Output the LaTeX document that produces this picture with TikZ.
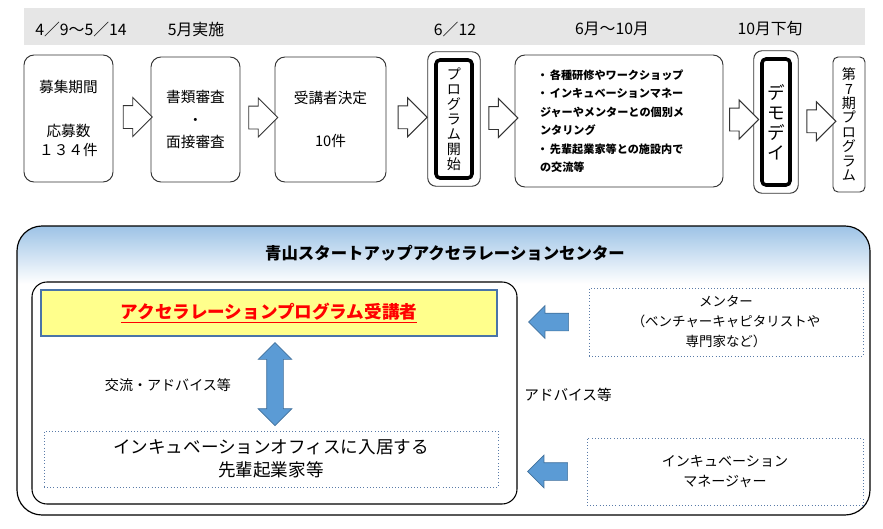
\documentclass[tikz,border=0pt]{standalone}
\usepackage{fontspec}
\setmainfont{Noto Sans CJK JP}
\usetikzlibrary{positioning, calc, fit, shapes.arrows, backgrounds}
\definecolor{bandgray}{HTML}{E6E6E6}
\definecolor{stageline}{HTML}{333333}
\definecolor{arrowblue}{HTML}{5B9BD5}
\definecolor{arrowedge}{HTML}{41719C}
\definecolor{skyblue}{HTML}{9DC3E6}
\definecolor{partyellow}{HTML}{FFFF8C}
\definecolor{partedge}{HTML}{4A74A8}
\definecolor{dotblue}{HTML}{5A7BA8}
\newlength\pxu
\setlength\pxu{0.03cm}
% header fade of the center box: white below, sky blue at the top edge
\pgfdeclareverticalshading{centerfade}{100bp}{%
    color(0bp)=(white); color(65bp)=(white);
    color(75bp)=(skyblue); color(100bp)=(skyblue)}

\begin{document}
\begin{tikzpicture}[
    x=0.03cm, y=-0.03cm,
    datelabel/.style={
        font=\fontsize{13.5}{15}\selectfont, inner sep=0pt,
    },
    stagebox/.style={
        draw=stageline, fill=white, rounded corners=0.3cm,
        line width=0.8pt, align=center, inner sep=0pt,
        font=\fontsize{12.5}{16}\selectfont,
    },
    keystage/.style={
        draw=black, fill=white, rounded corners=0.12cm,
        line width=3pt, align=center, inner sep=0pt,
    },
    keyframe/.style={
        draw=stageline, rounded corners=0.25cm, line width=0.8pt,
        inner sep=6.5\pxu,
    },
    flowarrow/.style={
        single arrow, draw=stageline, fill=white, line width=0.8pt,
        minimum height=29\pxu, inner xsep=0pt, inner ysep=11\pxu,
        single arrow head extend=8\pxu,
    },
    centerbox/.style={
        draw=black, shading=centerfade, rounded corners=0.75cm, line width=1pt,
    },
    memberbox/.style={
        draw=black, fill=white, rounded corners=0.45cm, line width=0.9pt,
    },
    partbox/.style={
        draw=partedge, fill=partyellow, line width=2.5pt,
        font=\fontsize{15}{18}\selectfont\bfseries, text=red,
    },
    supportbox/.style={
        draw=dotblue, dotted, line width=0.7pt, align=center, inner sep=0pt,
    },
    bothway/.style={
        double arrow, fill=arrowblue, draw=arrowedge, line width=0.6pt,
        shape border rotate=90, minimum height=83\pxu,
        inner sep=8\pxu, double arrow head extend=8.5\pxu,
    },
    advarrow/.style={
        single arrow, fill=arrowblue, draw=arrowedge, line width=0.6pt,
        shape border rotate=180, minimum height=40\pxu,
        inner xsep=0pt, inner ysep=8.5\pxu, single arrow head extend=7.5\pxu,
    },
    textlabel/.style={
        font=\fontsize{12}{14}\selectfont, inner sep=0pt,
    },
]
\useasboundingbox (0,0) rectangle (883,529);

% Schedule band
\fill[bandgray] (24,8) rectangle (865,45);
\node[datelabel] (d1) at (81,29) {4／9～5／14};
\node[datelabel] (d2) at (196,29) {5月実施};
\node[datelabel] (d3) at (455,29) {6／12};
\node[datelabel] (d4) at (612,29) {6月～10月};
\node[datelabel] (d5) at (770,29) {10月下旬};

% Stages
\node[stagebox, minimum width=89\pxu, minimum height=127\pxu] (recruit) at (68.5,118.5)
    {募集期間\\[22pt]応募数\\１３４件};
\node[stagebox, minimum width=89\pxu, minimum height=125\pxu,
      font=\fontsize{12.5}{19}\selectfont] (screen) at (195.5,119.5)
    {書類審査\\・\\面接審査};
\node[stagebox, minimum width=111\pxu, minimum height=125\pxu] (decide) at (330.5,119.5)
    {受講者決定\\[21pt]10件};
\node[keystage, minimum width=36\pxu, minimum height=118\pxu,
      font=\fontsize{12}{12.8}\selectfont] (start) at (454,119)
    {プ\\ロ\\グ\\ラ\\ム\\開\\始};
\node[keyframe, fit=(start)] (startframe) {};
\node[stagebox, minimum width=208\pxu, minimum height=132\pxu, align=left,
      inner xsep=22\pxu, text width=164\pxu,
      font=\fontsize{9.5}{15.8}\selectfont\bfseries] (program) at (619,121)
    {・\,各種研修やワークショップ\\
     ・\,インキュベーションマネー\\
     \hspace{3\pxu}ジャーやメンターとの個別メ\\
     \hspace{3\pxu}ンタリング\\
     ・\,先輩起業家等との施設内で\\
     \hspace{3\pxu}の交流等};
\node[keystage, minimum width=28\pxu, minimum height=126\pxu,
      font=\fontsize{15}{17}\selectfont] (demo) at (776,122)
    {デ\\モ\\デ\\イ};
\node[keyframe, fit=(demo)] (demoframe) {};
\node[stagebox, minimum width=32\pxu, minimum height=135\pxu, rounded corners=0.15cm,
      font=\fontsize{12}{12.3}\selectfont] (next) at (849,124.5)
    {第\\7\\期\\プ\\ロ\\グ\\ラ\\ム};

% Flow arrows
\node[flowarrow, yshift=2\pxu] (f1) at ($(recruit.east)!0.5!(screen.west)$) {};
\node[flowarrow, yshift=2\pxu] (f2) at ($(screen.east)!0.5!(decide.west)$) {};
\node[flowarrow, yshift=2\pxu] (f3) at ($(decide.east)!0.5!(startframe.west)$) {};
\node[flowarrow, yshift=2\pxu] (f4) at ($(startframe.east)!0.5!(program.west)$) {};
\node[flowarrow, yshift=2\pxu] (f5) at ($(program.east)!0.5!(demoframe.west)$) {};
\node[flowarrow, yshift=2\pxu] (f6) at ($(demoframe.east)!0.5!(next.west)$) {};

% Accelerator center
\node[centerbox, minimum width=853\pxu, minimum height=289\pxu] (center) at (443.5,370.5) {};
\node[font=\fontsize{14}{16}\selectfont\bfseries] (ctitle) at (445,253)
    {青山スタートアップアクセラレーションセンター};

\node[memberbox, minimum width=485\pxu, minimum height=222\pxu] (members) at (274.5,393) {};
\node[partbox, minimum width=456\pxu, minimum height=46\pxu] (participant) at (269,313)
    {\underline{アクセラレーションプログラム受講者}};
\node[supportbox, minimum width=454\pxu, minimum height=56\pxu,
      font=\fontsize{15}{20}\selectfont] (office) at (271,459)
    {インキュベーションオフィスに入居する\\先輩起業家等};
\node[bothway, xshift=5\pxu] (xchg) at ($(participant.south)!0.5!(office.north)$) {};
\node[textlabel] (xchglabel) at (168,385) {交流・アドバイス等};

\node[supportbox, minimum width=274\pxu, minimum height=68\pxu,
      font=\fontsize{11.5}{17}\selectfont] (mentor) at (726,322)
    {メンター\\（ベンチャーキャピタリストや\\専門家など）};
\node[supportbox, minimum width=276\pxu, minimum height=67\pxu,
      font=\fontsize{12}{17}\selectfont] (manager) at (725,471.5)
    {インキュベーション\\マネージャー};

\node[advarrow] (adv1) at ($(members.east |- mentor.west)!0.5!(mentor.west)$) {};
\node[advarrow] (adv2) at ($(members.east |- manager.west)!0.5!(manager.west)$) {};
\node[textlabel, font=\fontsize{12.5}{14}\selectfont] (advlabel) at (568,395) {アドバイス等};

\end{tikzpicture}
\end{document}
